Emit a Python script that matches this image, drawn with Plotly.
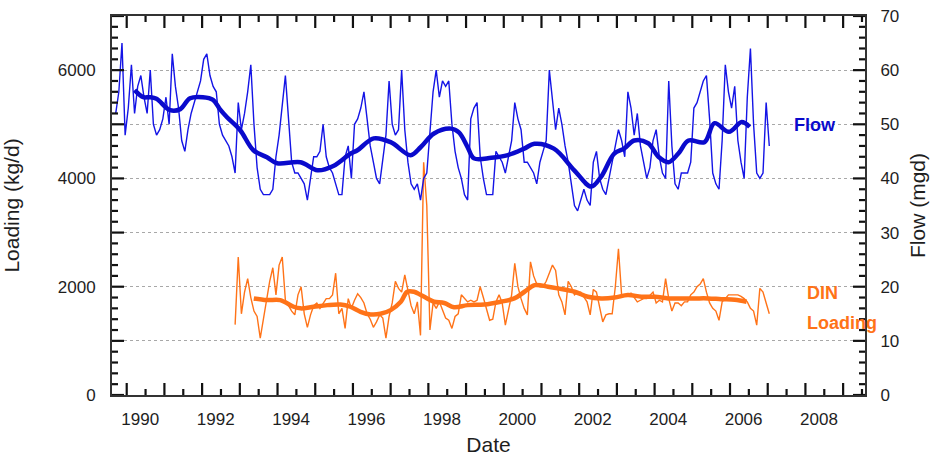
import plotly.graph_objects as go

# ---------------- data ----------------
flow_start = (1989, 9)
flow_mgd = [
    52, 56, 65, 48, 53, 61, 52, 57, 59, 55,
    52, 60, 50, 48, 49, 51, 55, 50, 63, 57,
    53, 47, 45, 49, 52, 54, 56, 58, 62, 63,
    59, 57, 56, 50, 48, 47, 46, 44, 41, 54,
    49, 52, 56, 61, 50, 42, 38, 37, 37, 37,
    38, 44, 48, 54, 59, 51, 43, 41, 41, 40,
    39, 36, 40, 44, 44, 45, 50, 44, 42, 41,
    39, 37, 37, 44, 46, 40, 50, 51, 53, 56,
    51, 46, 43, 40, 39, 44, 48, 58, 50, 48,
    49, 60, 49, 43, 39, 38, 39, 36, 40, 41,
    48, 56, 60, 55, 58, 57, 58, 50, 45, 42,
    40, 37, 36, 51, 53, 54, 44, 40, 37, 37,
    37, 45, 44, 43, 41, 44, 47, 54, 51, 49,
    43, 43, 42, 41, 39, 43, 45, 47, 60, 55,
    49, 53, 50, 46, 43, 39, 35, 34, 36, 38,
    36, 35, 43, 45, 40, 38, 37, 40, 43, 46,
    49, 47, 44, 56, 53, 48, 52, 46, 43, 40,
    42, 47, 49, 44, 41, 40, 58, 46, 39, 38,
    41, 41, 41, 43, 53, 54, 56, 58, 59, 51,
    41, 39, 38, 47, 61, 56, 53, 57, 47, 43,
    40, 55, 64, 50, 41, 40, 41, 54, 46,
]

din_start = (1992, 11)
din_kgd = [
    1300, 2550, 1500, 1900, 2150, 1800, 1550, 1450, 1050, 1400,
    1700, 2100, 2350, 1850, 2400, 2550, 1750, 1650, 1550, 1480,
    1850, 2000, 1500, 1250, 1480, 1650, 1700, 1600, 1700, 1780,
    1780, 1850, 2250, 1500, 1600, 1230, 1780, 1600, 1750, 1870,
    1800, 1700, 1500, 1400, 1250, 1350, 1480, 1420, 1050, 1450,
    1700, 2100, 1970, 1900, 2220, 1900, 1650, 1500, 1720, 1100,
    4300, 3500, 1200, 1700, 1600, 1720, 1550, 1420, 1380, 1230,
    1450, 1500, 1850, 1780, 1720, 1750, 1720, 1750, 2000, 1800,
    1600, 1380, 1400, 1720, 1850, 1700, 1290, 1550, 1850, 2430,
    2000, 1780, 1600, 1480, 2460, 2200, 2050, 2000, 2000, 2100,
    2250, 2400, 2300, 1850, 1720, 1480, 2100, 2000, 1850, 1900,
    1900, 1800, 1720, 1480, 1950, 1900, 1600, 1350, 1480, 1500,
    1500, 2000, 2700, 1850, 1850, 1850, 1880, 1800, 1720, 1750,
    1780, 1780, 1850, 1900, 1700, 1750, 1720, 2150, 1780, 1550,
    1700, 1700, 1650, 1720, 1720, 1850, 1900, 2000, 2050, 2150,
    1900, 1700, 1600, 1550, 1380, 1720, 1780, 1850, 1850, 1850,
    1850, 1820, 1780, 1720, 1600, 1550, 1290, 1970, 1900, 1700,
    1500,
]

flow_trend_year = [1990.21, 1990.44, 1990.62, 1990.79, 1991.15, 1991.42, 1991.68,
                   1992.02, 1992.29, 1992.47, 1992.66, 1993.01, 1993.36, 1993.72,
                   1993.99, 1994.61, 1995.06, 1995.48, 1995.94, 1996.12, 1996.55,
                   1997.00, 1997.53, 1997.80, 1998.15, 1998.60, 1998.81, 1999.04,
                   1999.21, 1999.67, 2000.11, 2000.54, 2000.81, 2001.33, 2001.87,
                   2002.32, 2002.58, 2002.93, 2003.19, 2003.46, 2003.83, 2004.10,
                   2004.37, 2004.63, 2004.90, 2005.32, 2005.59, 2005.97, 2006.31,
                   2006.52]
flow_trend_mgd = [56.3, 55.0, 55.0, 54.7, 52.6, 52.8, 54.8,
                  55.0, 54.5, 52.8, 51.3, 48.9, 45.2, 43.9,
                  42.8, 43.0, 41.5, 42.3, 44.6, 45.2, 47.4,
                  46.7, 44.3, 45.8, 48.3, 49.2, 48.5, 45.8,
                  43.7, 43.8, 44.3, 45.5, 46.4, 45.5, 41.5,
                  38.5, 40.3, 44.6, 45.5, 47.0, 46.5, 44.0,
                  43.0, 44.6, 47.0, 46.7, 50.2, 48.6, 50.4,
                  49.5]

din_trend_year = [1993.37, 1993.72, 1994.07, 1994.43, 1994.61, 1994.96, 1995.32,
                  1995.67, 1995.93, 1996.20, 1996.47, 1996.73, 1997.00, 1997.27,
                  1997.44, 1997.62, 1997.80, 1997.97, 1998.15, 1998.42, 1998.68,
                  1999.04, 1999.48, 1999.92, 2000.28, 2000.55, 2000.82, 2001.17,
                  2001.43, 2001.88, 2002.23, 2002.58, 2002.94, 2003.29, 2003.65,
                  2004.01, 2004.36, 2004.72, 2005.07, 2005.42, 2005.77, 2006.13,
                  2006.44]
din_trend_kgd = [1784, 1753, 1753, 1630, 1600, 1630, 1660,
                 1670, 1630, 1537, 1488, 1500, 1568, 1722,
                 1907, 1907, 1846, 1784, 1722, 1700, 1620,
                 1660, 1670, 1722, 1784, 1907, 2030, 2000,
                 1970, 1907, 1815, 1784, 1800, 1846, 1815,
                 1815, 1784, 1784, 1784, 1784, 1770, 1760,
                 1722]

# axis tick definitions
year_major = list(range(1990, 2010))                 # long ticks (Jan 1)
year_minor = [y + 0.5 for y in range(1989, 2010)]    # short ticks (Jul 1)
label_years = list(range(1990, 2010, 2))
label_pos = [y + 0.36 for y in label_years]
label_text = [str(y) for y in label_years]
load_major = list(range(0, 8000, 1000))
load_minor = [v for v in range(0, 7001, 200) if v % 1000]
load_labels = [str(v) if v % 2000 == 0 else "" for v in load_major]
flow_major = list(range(0, 80, 10))
flow_minor = [v for v in range(0, 71, 2) if v % 10]


def monthly_years(start, n):
    y0, m0 = start
    return [y0 + (m0 - 1 + i + 0.5) / 12.0 for i in range(n)]


flow_year = monthly_years(flow_start, len(flow_mgd))
din_year = monthly_years(din_start, len(din_kgd))

# ---------------- layout constants ----------------
W, H = 940, 460
ML, MR, MT, MB = 112, 75, 16, 65
PW, PH = W - ML - MR, H - MT - MB          # plot area in pixels
BLUE = "#1414E6"
DARKBLUE = "#0A0ACC"
ORANGE = "#FF7318"
AXC = "#111111"
XR = [1989.61, 2009.58]
TICKFONT = dict(family="Liberation Sans, Arial, sans-serif", size=17, color="#1e1e1e")
TITLEFONT = dict(family="Liberation Sans, Arial, sans-serif", size=21, color="#1e1e1e")
LABELFONT = dict(family="Liberation Sans, Arial, sans-serif", size=18)
MAJ, MIN = 12, 6

fig = go.Figure()
fig.add_trace(go.Scatter(x=flow_year, y=flow_mgd, yaxis="y2", mode="lines",
                         line=dict(color=BLUE, width=1.4), name="Flow"))
fig.add_trace(go.Scatter(x=flow_trend_year, y=flow_trend_mgd, yaxis="y2",
                         mode="lines", line=dict(color=DARKBLUE, width=4.5, shape="spline"),
                         name="Flow (smoothed)"))
fig.add_trace(go.Scatter(x=din_year, y=din_kgd, mode="lines",
                         line=dict(color=ORANGE, width=1.4), name="DIN Loading"))
fig.add_trace(go.Scatter(x=din_trend_year, y=din_trend_kgd, xaxis="x2", mode="lines",
                         line=dict(color=ORANGE, width=4.5, shape="spline"),
                         name="DIN Loading (smoothed)"))


# ---- inward tick marks, drawn as line segments on pixel-unit helper axes ----
def seg_x(vals, lengths, top):
    xs, ys = [], []
    for v, ln in zip(vals, lengths):
        xs += [v, v, None]
        ys += ([PH, PH - ln, None] if top else [0, ln, None])
    return xs, ys


def seg_y(vals, lengths, right):
    xs, ys = [], []
    for v, ln in zip(vals, lengths):
        xs += ([PW, PW - ln, None] if right else [0, ln, None])
        ys += [v, v, None]
    return xs, ys


xt_vals = year_major + year_minor
xt_len = [MAJ] * len(year_major) + [MIN] * len(year_minor)
tick_style = dict(mode="lines", line=dict(color=AXC, width=2.2),
                  hoverinfo="skip", showlegend=False, connectgaps=False)
for top in (False, True):
    xs, ys = seg_x(xt_vals, xt_len, top)
    fig.add_trace(go.Scatter(x=xs, y=ys, xaxis="x", yaxis="y3", name="x ticks", **tick_style))
xs, ys = seg_y(load_major + load_minor,
               [MAJ] * len(load_major) + [MIN] * len(load_minor), False)
fig.add_trace(go.Scatter(x=xs, y=ys, xaxis="x3", yaxis="y", name="left ticks", **tick_style))
xs, ys = seg_y(flow_major + flow_minor,
               [MAJ] * len(flow_major) + [MIN] * len(flow_minor), True)
fig.add_trace(go.Scatter(x=xs, y=ys, xaxis="x3", yaxis="y2", name="right ticks", **tick_style))

hidden = dict(showticklabels=False, showgrid=False, zeroline=False, showline=False,
              ticks="", automargin=False, fixedrange=True)
fig.update_layout(
    width=W, height=H,
    margin=dict(l=ML, r=MR, t=MT, b=MB),
    paper_bgcolor="white", plot_bgcolor="white",
    showlegend=False,
    xaxis=dict(
        range=XR, automargin=False, showticklabels=False, ticks="",
        showline=True, linecolor="#333333", linewidth=2, mirror=True,
        showgrid=False, zeroline=False,
    ),
    xaxis2=dict(
        range=XR, overlaying="x", anchor="y", side="bottom", automargin=False,
        tickmode="array", tickvals=label_pos, ticktext=label_text,
        ticks="outside", ticklen=9, tickcolor="rgba(0,0,0,0)",
        showline=False, showgrid=False, zeroline=False,
        tickfont=TICKFONT,
        title=dict(text="Date", font=TITLEFONT, standoff=8),
    ),
    xaxis3=dict(hidden, range=[0, PW], overlaying="x", anchor="y"),
    yaxis=dict(
        range=[0, 7000], automargin=False,
        tickmode="array", tickvals=load_major, ticktext=load_labels,
        ticks="", ticklabelstandoff=11,
        showline=True, linecolor="#333333", linewidth=2, mirror=True,
        showgrid=True, gridcolor="#a8a8a8", griddash="dot", gridwidth=1,
        zeroline=False,
        tickfont=TICKFONT,
        title=dict(text="Loading (kg/d)", font=TITLEFONT, standoff=34),
    ),
    yaxis2=dict(
        range=[0, 70], overlaying="y", side="right", automargin=False,
        tickmode="array", tickvals=flow_major, ticktext=[str(v) for v in flow_major],
        ticks="", ticklabelstandoff=10,
        showline=True, linecolor="#333333", linewidth=2,
        showgrid=False, zeroline=False,
        tickfont=TICKFONT,
        title=dict(text="Flow (mgd)", font=TITLEFONT, standoff=12),
    ),
    yaxis3=dict(hidden, range=[0, PH], overlaying="y", anchor="x"),
    annotations=[
        dict(text="<b>Flow</b>", xref="paper", yref="paper",
             x=(792 - ML) / PW, y=(MT + PH - 125) / PH,
             xanchor="left", yanchor="middle", showarrow=False,
             font=dict(LABELFONT, color=DARKBLUE)),
        dict(text="<b>DIN</b>", xref="paper", yref="paper",
             x=(805 - ML) / PW, y=(MT + PH - 293) / PH,
             xanchor="left", yanchor="middle", showarrow=False,
             font=dict(LABELFONT, color=ORANGE)),
        dict(text="<b>Loading</b>", xref="paper", yref="paper",
             x=(805 - ML) / PW, y=(MT + PH - 323) / PH,
             xanchor="left", yanchor="middle", showarrow=False,
             font=dict(LABELFONT, color=ORANGE)),
    ],
)

fig.write_html("out.html", config={"displayModeBar": False},
               post_script="document.body.style.margin='0px';")
